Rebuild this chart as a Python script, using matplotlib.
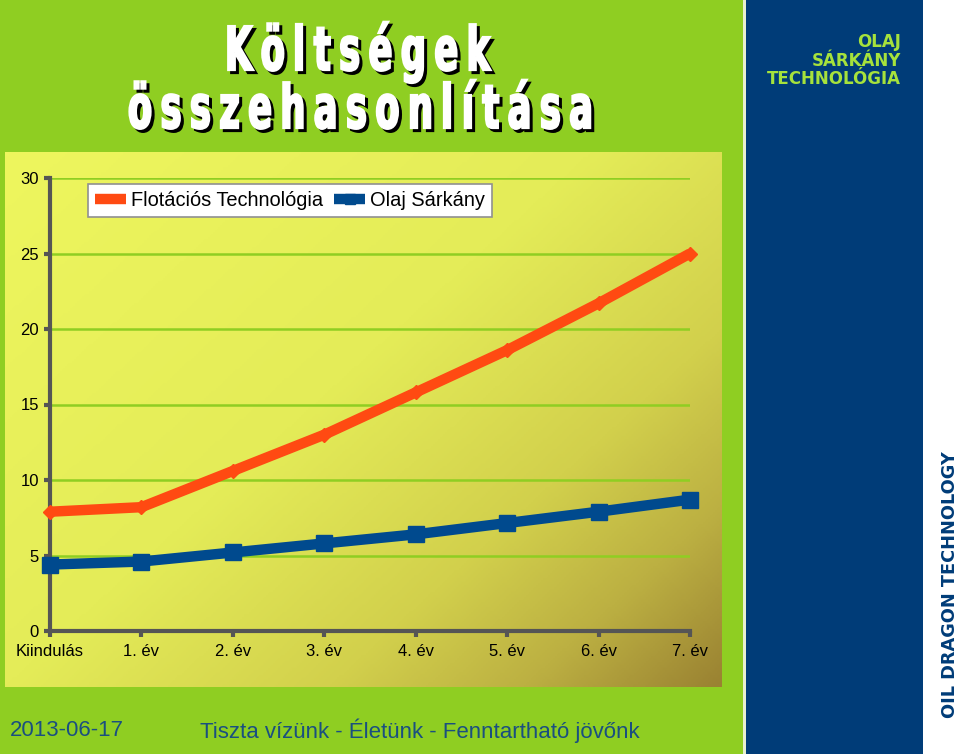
import matplotlib
matplotlib.use("Agg")
import matplotlib.pyplot as plt
import matplotlib.patheffects as pe
from matplotlib import font_manager as fm
from matplotlib.transforms import Affine2D
import numpy as np
from matplotlib.colors import LinearSegmentedColormap

categories = ["Kiindulás", "1. év", "2. év", "3. év", "4. év", "5. év", "6. év", "7. év"]
flotacios = [7.9, 8.2, 10.6, 13.0, 15.8, 18.6, 21.7, 25.0]
olaj = [4.4, 4.6, 5.2, 5.8, 6.4, 7.15, 7.9, 8.7]
series_names = ["Flotációs Technológia", "Olaj Sárkány"]
yticks = [0, 5, 10, 15, 20, 25, 30]
title_lines = ["Költségek", "összehasonlítása"]

W, H = 960, 754
fig = plt.figure(figsize=(W / 100, H / 100), dpi=100)
fig.patch.set_facecolor("#8fce22")

def fx(px):
    return px / W

def fy(py):
    return 1 - py / H

# pick a condensed bold font if any is installed
cands = []
for f in fm.fontManager.ttflist:
    nm = f.name.lower() + " " + str(f.stretch).lower() + " " + f.fname.lower()
    if ("condensed" in nm or "narrow" in nm) and "mono" not in nm and "serif" not in f.name.lower():
        w = f.weight if isinstance(f.weight, int) else (700 if "bold" in str(f.weight) else 400)
        cands.append((-(w >= 600), "oblique" in f.fname.lower() or "italic" in f.fname.lower(), f.fname))
cands.sort()
if cands:
    title_fp = fm.FontProperties(fname=cands[0][2])
else:
    title_fp = fm.FontProperties(family="DejaVu Sans", weight="bold")


class StretchShadow(pe.AbstractPathEffect):
    """Stretch glyphs vertically about a baseline, thicken them and draw a hard black shadow."""

    def __init__(self, sy, y0, off=(3, -3), lw=1.6):
        super().__init__()
        self.sy = sy
        self.y0 = y0
        self.off = off
        self.lw = lw

    def draw_path(self, renderer, gc, tpath, affine, rgbFace=None):
        st = Affine2D().translate(0, -self.y0).scale(1, self.sy).translate(0, self.y0)
        a = affine + st
        gc0 = renderer.new_gc()
        gc0.copy_properties(gc)
        gc0.set_foreground("black")
        gc0.set_linewidth(self.lw)
        gc0.set_joinstyle("miter")
        renderer.draw_path(gc0, tpath, a + Affine2D().translate(*self.off), (0, 0, 0, 1))
        gc0.restore()
        gc1 = renderer.new_gc()
        gc1.copy_properties(gc)
        gc1.set_foreground("white")
        gc1.set_linewidth(self.lw)
        gc1.set_joinstyle("miter")
        renderer.draw_path(gc1, tpath, a, rgbFace)
        gc1.restore()


# side panels
bg = fig.add_axes([0, 0, 1, 1], zorder=0)
bg.set_xlim(0, W)
bg.set_ylim(H, 0)
bg.axis("off")
bg.add_patch(plt.Rectangle((743, 0), 3, H, color="#e8f0d0", lw=0))
bg.add_patch(plt.Rectangle((746, 0), 177, H, color="#003c78", lw=0))
bg.add_patch(plt.Rectangle((923, 0), W - 923, H, color="white", lw=0))

# gradient panel behind chart
gx0, gx1, gy0, gy1 = 5, 722, 152, 687
gax = fig.add_axes([fx(gx0), fy(gy1), fx(gx1 - gx0), (gy1 - gy0) / H], zorder=1)
gax.axis("off")
nx, ny = 300, 220
xx, yy = np.meshgrid(np.linspace(0, 1, nx), np.linspace(0, 1, ny))
t = np.clip(0.55 * xx + 0.45 * yy, 0, 1)
cmap = LinearSegmentedColormap.from_list(
    "g", [(0, "#eef65e"), (0.45, "#e4ec58"), (0.7, "#d2d04c"), (0.85, "#bcb042"), (1.0, "#9a8232")])
gax.imshow(t, cmap=cmap, aspect="auto", extent=[0, 1, 0, 1], origin="upper", vmin=0, vmax=1)
gax.set_xlim(0, 1)
gax.set_ylim(0, 1)

# chart axes
ax = fig.add_axes([fx(50), fy(631), fx(690 - 50), (631 - 178) / H], zorder=2)
ax.patch.set_alpha(0)
x = np.arange(len(categories))
ax.set_xlim(0, len(categories) - 1)
ax.set_ylim(0, 30)
ax.set_yticks(yticks)
ax.set_xticks(x)
ax.set_xticklabels(categories)
for s in ["top", "right"]:
    ax.spines[s].set_visible(False)
for s in ["left", "bottom"]:
    ax.spines[s].set_color("#555555")
    ax.spines[s].set_linewidth(3)
ax.tick_params(axis="both", colors="#555555", width=3, length=4,
               labelcolor="black", labelsize=12)
ax.tick_params(axis="x", pad=5)
ax.tick_params(axis="y", pad=4)
for lab in ax.get_xticklabels() + ax.get_yticklabels():
    lab.set_family("Liberation Sans")
ax.grid(axis="y", color="#8fce22", lw=1.8)
ax.set_axisbelow(True)

l1, = ax.plot(x, flotacios, color="#ff4a12", lw=7.5, marker="D", ms=7,
              solid_capstyle="butt", clip_on=False, zorder=4, label=series_names[0])
l2, = ax.plot(x, olaj, color="#004a8e", lw=7.5, marker="s", ms=12,
              solid_capstyle="butt", clip_on=False, zorder=5, label=series_names[1])

leg = ax.legend(handles=[l1, l2], loc="upper left",
                bbox_to_anchor=((88 - 50) / 640, 1 - (184 - 178) / 453),
                ncol=2, frameon=True, fancybox=False, borderpad=0.35,
                handlelength=1.55, handletextpad=0.25, columnspacing=0.55,
                borderaxespad=0,
                prop={"family": "Liberation Sans", "size": 14.4}, markerscale=0.6)
leg.get_frame().set_edgecolor("#909090")
leg.get_frame().set_linewidth(1.2)
leg.get_frame().set_alpha(1)

# title: letters placed one by one with wide tracking, stretched tall
title_specs = [(title_lines[0], 70, 225, 490), (title_lines[1], 128, 128, 593)]
gap = 8.5
base_size = 27.0
all_letters = []
for line, base_y, xl, xr in title_specs:
    fp = title_fp.copy()
    fp.set_size(base_size)
    txts = [fig.text(0, fy(base_y), ch, fontproperties=fp, color="white",
                     ha="left", va="baseline") for ch in line]
    all_letters.append((txts, base_y, xl, xr))
fig.canvas.draw()
rend = fig.canvas.get_renderer()
for txts, base_y, xl, xr in all_letters:
    widths = np.array([tt.get_window_extent(rend).width for tt in txts])
    k = (xr - xl - gap * (len(txts) - 1)) / widths.sum()
    size = base_size * k
    widths = widths * k
    em_px = size * 100 / 72
    sy = 44.0 / (0.73 * em_px)
    cur = xl
    for tt, w in zip(txts, widths):
        tt.set_fontsize(size)
        tt.set_x(fx(cur))
        tt.set_path_effects([StretchShadow(sy, H - base_y)])
        cur += w + gap

# right panel logo text
for txt, yy_ in [("OLAJ", 42), ("SÁRKÁNY", 61), ("TECHNOLÓGIA", 79)]:
    fig.text(fx(901), fy(yy_), txt, ha="right", va="center", color="#a6e23c",
             fontsize=12.0, fontweight="bold", family="DejaVu Sans")

fig.text(fx(950), fy(585), "OIL DRAGON TECHNOLOGY", rotation=90, ha="center",
         va="center", color="#003c78", fontsize=12.8, fontweight="bold", family="DejaVu Sans")

# footer
fig.text(fx(10), fy(731), "2013-06-17", ha="left", va="center", color="#1a4f80",
         fontsize=16, family="Liberation Sans")
fig.text(fx(200), fy(731), "Tiszta vízünk - Életünk - Fenntartható jövőnk", ha="left",
         va="center", color="#1a4f80", fontsize=16, family="Liberation Sans")

fig.savefig("out.png", dpi=100, facecolor=fig.get_facecolor())
